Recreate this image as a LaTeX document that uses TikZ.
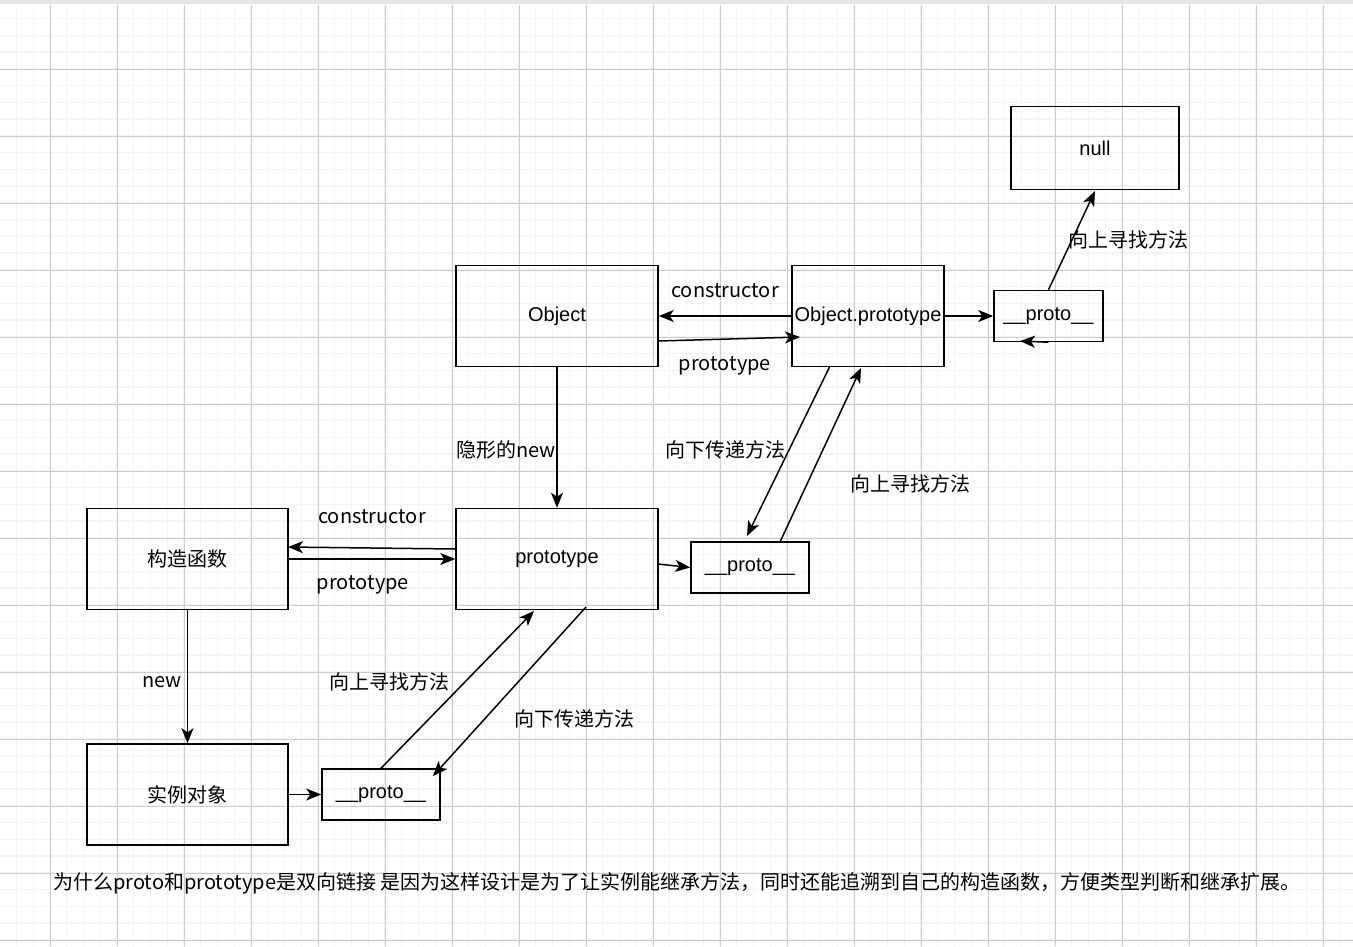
\documentclass[tikz,border=0pt]{standalone}
\usepackage{fontspec}
\setmainfont{Liberation Sans}
\newfontfamily\cjk{Noto Sans CJK SC}
\usetikzlibrary{arrows.meta, positioning}
\tikzset{
  box/.style={draw, line width=1.5pt, minimum width=#1, minimum height=101pt, inner sep=0pt},
  pbox/.style={draw, line width=1.5pt, minimum width=#1, minimum height=51pt, inner sep=0pt},
  arr/.style={-{Stealth[length=15pt,width=12pt,inset=4pt]}, line width=1.5pt},
  lbl/.style={font=\fontsize{20}{22}\selectfont\cjk, inner sep=1pt},
  every node/.append style={font=\fontsize{20}{22}\selectfont}
}
\begin{document}
\begin{tikzpicture}[x=1pt, y=-1pt]
  % background grid
  \useasboundingbox (0,0) rectangle (1353,946);
  \foreach \i in {0,...,81} {
    \draw[gray!9, line width=1.2pt] (\i*16.75-0.25,5) -- (\i*16.75-0.25,946);
  }
  \foreach \j in {0,...,56} {
    \draw[gray!9, line width=1.2pt] (0,\j*16.75+1.75) -- (1353,\j*16.75+1.75);
  }
  \foreach \i in {0,...,20} {
    \draw[gray!40, line width=0.8pt] (\i*67+50,5) -- (\i*67+50,946);
  }
  \foreach \j in {0,...,13} {
    \draw[gray!40, line width=0.8pt] (0,\j*67+69) -- (1353,\j*67+69);
  }
  \fill[gray!20] (0,0) rectangle (1353,4);

  % nodes
  \node[box=168pt, minimum height=83pt] (null) at (1095,148) {null};
  \node[box=202pt] (obj) at (557,316) {Object};
  \node[box=152pt] (objp) at (868,316) {Object.prototype};
  \node[pbox=109pt] (p1) at (1048.5,316) {\_\_proto\_\_};
  \node[box=201pt] (ctor) at (187.5,559) {\cjk 构造函数};
  \node[box=202pt] (proto) at (557,559) {prototype};
  \node[pbox=118pt] (p2) at (750,567.5) {\_\_proto\_\_};
  \node[box=201pt] (inst) at (187.5,794.5) {\cjk 实例对象};
  \node[pbox=118pt] (p3) at (381,794.5) {\_\_proto\_\_};

  % connectors
  \draw[arr] (objp.west) -- (obj.east);
  \draw[arr] (obj.east |- 0,341) -- (800,337);
  \draw[arr] (objp.east) -- (p1.west);
  \draw[arr] (p1.south) -- (1020,341);
  \draw[arr] (p1.north) -- (1095,191);
  \draw[arr] (obj.south) -- (proto.north);
  \draw[arr] (830,366) -- (747,536);
  \draw[arr] (780,542) -- (861,368);
  \draw[arr] (proto.west |- 0,549) -- (288,547);
  \draw[arr] (ctor.east |- 0,559) -- (proto.west |- 0,559);
  \draw[arr] (658,564) -- (p2.west);
  \draw[arr] (ctor.south) -- (inst.north);
  \draw[arr] (inst.east) -- (p3.west);
  \draw[arr] (p3.north) -- (534,611);
  \draw[arr] (586,607) -- (433,776);

  % labels
  \node[lbl] at (725,291) {constructor};
  \node[lbl] at (725,366) {prototype};
  \node[lbl] at (1128,240) {向上寻找方法};
  \node[lbl] at (506,450) {隐形的new};
  \node[lbl] at (725,450) {向下传递方法};
  \node[lbl] at (910,484) {向上寻找方法};
  \node[lbl] at (372,517) {constructor};
  \node[lbl] at (363,585) {prototype};
  \node[lbl] at (162,682) {new};
  \node[lbl] at (389,682) {向上寻找方法};
  \node[lbl] at (574,719) {向下传递方法};
  \node[lbl, anchor=west] at (52,883) {为什么proto和prototype是双向链接 是因为这样设计是为了让实例能继承方法，同时还能追溯到自己的构造函数，方便类型判断和继承扩展。};
\end{tikzpicture}
\end{document}
